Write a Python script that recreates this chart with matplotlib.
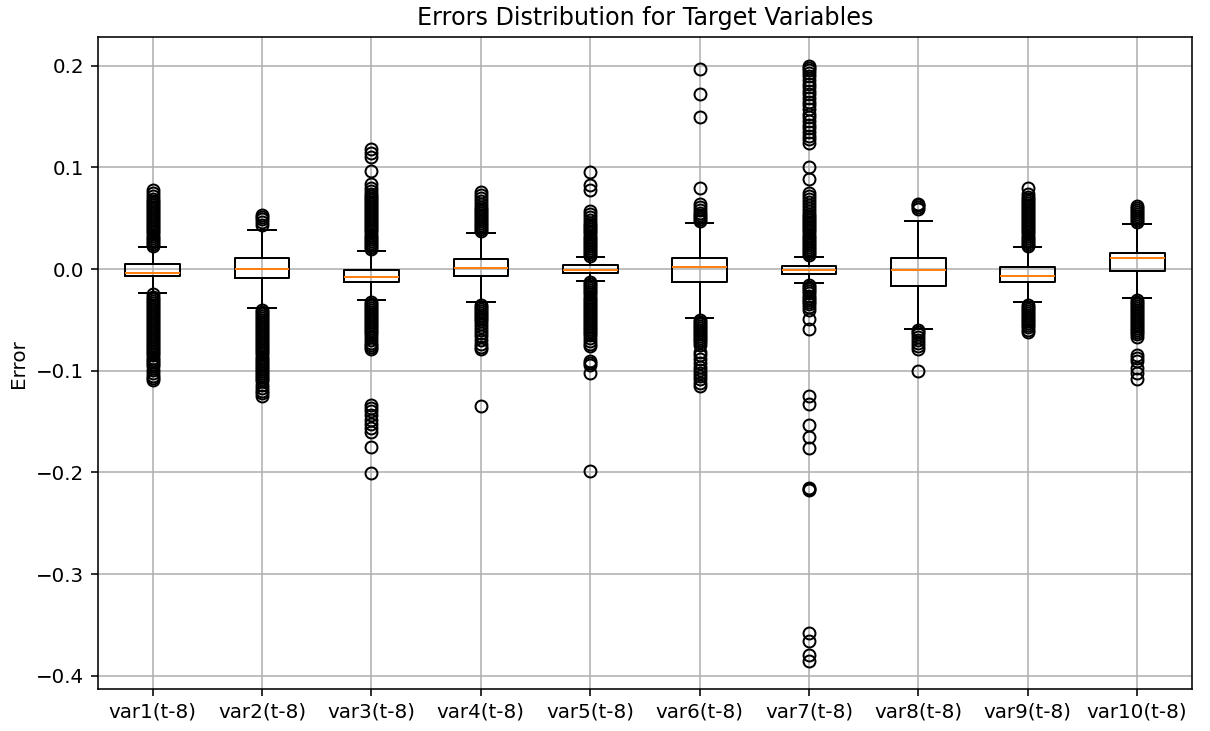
import matplotlib
matplotlib.use("Agg")
import matplotlib.pyplot as plt

labels = ["var1(t-8)", "var2(t-8)", "var3(t-8)", "var4(t-8)", "var5(t-8)",
          "var6(t-8)", "var7(t-8)", "var8(t-8)", "var9(t-8)", "var10(t-8)"]

medians = [-0.0036, -0.0003, -0.0075, 0.0010, -0.0010, 0.0020, -0.0008, -0.0012, -0.0066, 0.0105]
q1s = [-0.0069, -0.0092, -0.0130, -0.0066, -0.0036, -0.0130, -0.0048, -0.0169, -0.0125, -0.0020]
q3s = [0.0046, 0.0105, -0.0010, 0.0098, 0.0036, 0.0105, 0.0028, 0.0108, 0.0017, 0.0160]
whis_lo = [-0.0233, -0.0380, -0.0300, -0.0325, -0.0115, -0.0480, -0.0140, -0.0586, -0.0328, -0.0280]
whis_hi = [0.0213, 0.0383, 0.0174, 0.0350, 0.0115, 0.0450, 0.0120, 0.0474, 0.0213, 0.0440]

fliers_var1 = [0.023, 0.025, 0.027, 0.029, 0.031, 0.033, 0.035, 0.037, 0.039, 0.041, 0.043, 0.045,
               0.047, 0.049, 0.051, 0.053, 0.055, 0.057, 0.059, 0.061, 0.063, 0.065, 0.067, 0.069,
               0.072, 0.075, 0.078,
               -0.025, -0.027, -0.029, -0.031, -0.033, -0.035, -0.037, -0.039, -0.041, -0.043,
               -0.045, -0.047, -0.049, -0.051, -0.053, -0.055, -0.057, -0.059, -0.061, -0.063,
               -0.065, -0.067, -0.069, -0.071, -0.073, -0.075, -0.077, -0.079, -0.081, -0.083,
               -0.085, -0.087, -0.089, -0.091, -0.093, -0.095, -0.099, -0.102, -0.105, -0.107, -0.109]
fliers_var2 = [0.043, 0.046, 0.049, 0.051, 0.053,
               -0.040, -0.042, -0.044, -0.046, -0.048, -0.050, -0.052, -0.054, -0.056, -0.058,
               -0.060, -0.062, -0.064, -0.066, -0.068, -0.070, -0.072, -0.074, -0.076, -0.078,
               -0.080, -0.082, -0.084, -0.086, -0.088, -0.090, -0.092, -0.094, -0.096, -0.098,
               -0.100, -0.102, -0.104, -0.106, -0.108, -0.110, -0.114, -0.117, -0.120, -0.122, -0.125]
fliers_var3 = [0.020, 0.022, 0.024, 0.026, 0.028, 0.030, 0.032, 0.034, 0.036, 0.038, 0.040, 0.042,
               0.044, 0.046, 0.048, 0.050, 0.052, 0.054, 0.056, 0.058, 0.060, 0.062, 0.064, 0.066,
               0.068, 0.070, 0.072, 0.074, 0.077, 0.080, 0.084, 0.096, 0.110, 0.114, 0.118,
               -0.032, -0.034, -0.036, -0.038, -0.040, -0.042, -0.044, -0.046, -0.048, -0.050,
               -0.052, -0.054, -0.056, -0.058, -0.060, -0.062, -0.064, -0.067, -0.070, -0.073,
               -0.075, -0.077, -0.079, -0.134, -0.137, -0.140, -0.144, -0.148, -0.152, -0.156,
               -0.160, -0.175, -0.201]
fliers_var4 = [0.037, 0.039, 0.041, 0.043, 0.045, 0.047, 0.049, 0.051, 0.053, 0.055, 0.057, 0.059,
               0.061, 0.064, 0.067, 0.070, 0.073, 0.076,
               -0.035, -0.037, -0.039, -0.041, -0.043, -0.045, -0.047, -0.049, -0.051, -0.054,
               -0.057, -0.060, -0.063, -0.066, -0.070, -0.074, -0.077, -0.079, -0.135]
fliers_var5 = [0.013, 0.015, 0.017, 0.019, 0.021, 0.023, 0.025, 0.027, 0.029, 0.031, 0.033, 0.035,
               0.037, 0.039, 0.041, 0.043, 0.045, 0.048, 0.051, 0.054, 0.057, 0.078, 0.083, 0.095,
               -0.013, -0.015, -0.017, -0.019, -0.021, -0.023, -0.025, -0.027, -0.029, -0.031,
               -0.033, -0.035, -0.037, -0.039, -0.041, -0.043, -0.045, -0.047, -0.049, -0.051,
               -0.053, -0.055, -0.057, -0.059, -0.061, -0.063, -0.065, -0.068, -0.071, -0.074,
               -0.076, -0.090, -0.092, -0.094, -0.102, -0.199]
fliers_var6 = [0.047, 0.049, 0.051, 0.053, 0.055, 0.058, 0.061, 0.064, 0.080, 0.150, 0.172, 0.197,
               -0.050, -0.052, -0.054, -0.056, -0.058, -0.060, -0.062, -0.064, -0.066, -0.068,
               -0.070, -0.072, -0.075, -0.082, -0.085, -0.088, -0.092, -0.096, -0.099, -0.102,
               -0.105, -0.108, -0.112, -0.115]
fliers_var7 = [0.014, 0.016, 0.018, 0.020, 0.022, 0.024, 0.026, 0.028, 0.030, 0.032, 0.034, 0.036,
               0.038, 0.040, 0.042, 0.044, 0.046, 0.048, 0.050, 0.052, 0.054, 0.057, 0.060, 0.063,
               0.066, 0.069, 0.072, 0.075, 0.089, 0.100, 0.124, 0.128, 0.131, 0.135, 0.139, 0.142,
               0.146, 0.150, 0.153, 0.157, 0.161, 0.164, 0.168, 0.172, 0.175, 0.179, 0.182, 0.186,
               0.190, 0.193, 0.196, 0.198, 0.200,
               -0.016, -0.018, -0.020, -0.022, -0.024, -0.026, -0.028, -0.030, -0.032, -0.034,
               -0.037, -0.040, -0.049, -0.059, -0.125, -0.133, -0.153, -0.165, -0.176, -0.215,
               -0.216, -0.217, -0.358, -0.366, -0.380, -0.385]
fliers_var8 = [0.059, 0.061, 0.063, 0.064,
               -0.060, -0.062, -0.064, -0.067, -0.070, -0.073, -0.076, -0.079, -0.100]
fliers_var9 = [0.023, 0.025, 0.027, 0.029, 0.031, 0.033, 0.035, 0.037, 0.039, 0.041, 0.043, 0.045,
               0.047, 0.049, 0.051, 0.053, 0.055, 0.057, 0.059, 0.061, 0.063, 0.065, 0.067, 0.069,
               0.071, 0.074, 0.080,
               -0.035, -0.037, -0.039, -0.041, -0.043, -0.045, -0.047, -0.049, -0.051, -0.053,
               -0.055, -0.057, -0.060, -0.062]
fliers_var10 = [0.046, 0.048, 0.050, 0.052, 0.054, 0.056, 0.058, 0.060, 0.062,
                -0.030, -0.032, -0.034, -0.036, -0.038, -0.040, -0.042, -0.044, -0.046, -0.048,
                -0.050, -0.052, -0.054, -0.056, -0.058, -0.060, -0.062, -0.064, -0.067, -0.085,
                -0.087, -0.090, -0.097, -0.102, -0.108]

fliers = [fliers_var1, fliers_var2, fliers_var3, fliers_var4, fliers_var5,
          fliers_var6, fliers_var7, fliers_var8, fliers_var9, fliers_var10]

stats = []
for i, lab in enumerate(labels):
    stats.append(dict(label=lab, med=medians[i], q1=q1s[i], q3=q3s[i],
                      whislo=whis_lo[i], whishi=whis_hi[i], fliers=fliers[i]))

DPI = 143
fig = plt.figure(figsize=(1210 / DPI, 731 / DPI), dpi=DPI)
ax = fig.add_axes([0.081, 0.0575, 0.904, 0.8915])
ax.bxp(stats, showfliers=True)
ax.set_title("Errors Distribution for Target Variables")
ax.set_ylabel("Error")
ax.set_ylim(-0.413, 0.228)
ax.set_yticks([-0.4, -0.3, -0.2, -0.1, 0.0, 0.1, 0.2])
ax.grid(True)
fig.savefig("out.png", dpi=DPI)
